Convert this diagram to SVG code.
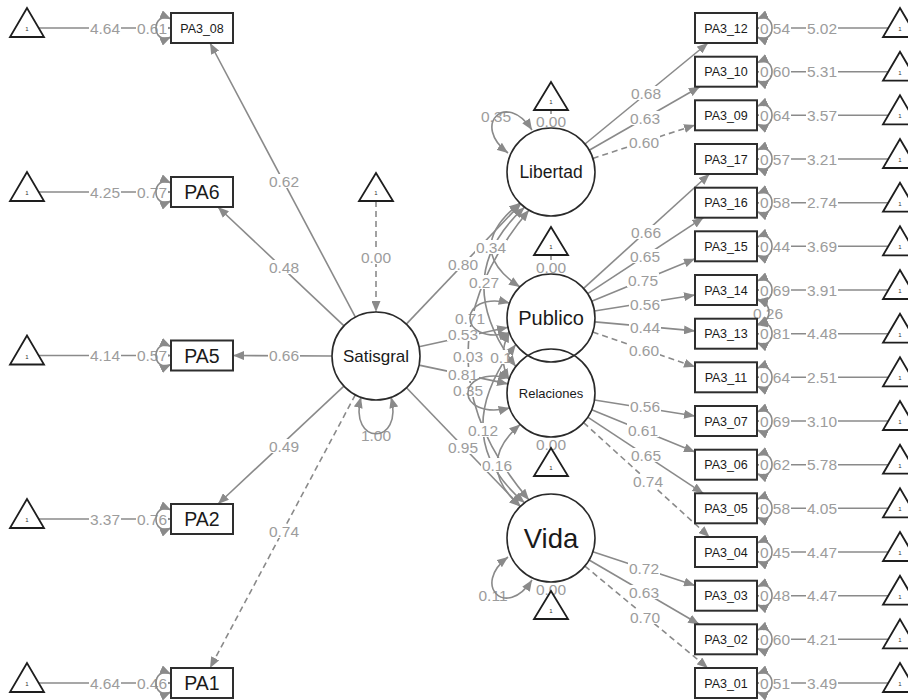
<svg xmlns="http://www.w3.org/2000/svg" width="908" height="700" viewBox="0 0 908 700">
<defs>
<marker id="ah" viewBox="0 0 11 9" refX="11" refY="4.5" markerWidth="11" markerHeight="9" markerUnits="userSpaceOnUse" orient="auto-start-reverse"><path d="M0,0L11,4.5L0,9z" fill="#8a8a8a"/></marker>
</defs>
<style>
.e{fill:none;stroke:#8a8a8a;stroke-width:1.6}
.d{stroke-dasharray:6 4}
.lb rect{fill:#fff}
.lb text{font-family:"Liberation Sans",Arial,sans-serif;font-size:15.5px;fill:#9c9c9c;text-anchor:middle}
.box{fill:#fff;stroke:#2e2e2e;stroke-width:2}
.circ{fill:#fff;stroke:#2a2a2a;stroke-width:1.6}
.tri{fill:#fff;stroke:#1e1e1e;stroke-width:1.8}
.nt{font-family:"Liberation Sans",Arial,sans-serif;fill:#1a1a1a;text-anchor:middle}
.one{font-family:"Liberation Sans",Arial,sans-serif;font-size:6px;fill:#333;text-anchor:middle}
</style>
<rect width="908" height="700" fill="#fff"/>
<g id="connectors">
<g id="edges" marker-end="url(#ah)">
<!-- left intercept lines -->
<line class="e" x1="39" y1="28" x2="171" y2="28"/>
<line class="e" x1="39" y1="192" x2="171" y2="192"/>
<line class="e" x1="39" y1="355.5" x2="171" y2="355.5"/>
<line class="e" x1="39" y1="519" x2="171" y2="519"/>
<line class="e" x1="39" y1="683" x2="171" y2="683"/>
<!-- right intercept lines -->
<line class="e" x1="889" y1="28" x2="757" y2="28"/>
<line class="e" x1="889" y1="71.7" x2="757" y2="71.7"/>
<line class="e" x1="889" y1="115.3" x2="757" y2="115.3"/>
<line class="e" x1="889" y1="159" x2="757" y2="159"/>
<line class="e" x1="889" y1="202.7" x2="757" y2="202.7"/>
<line class="e" x1="889" y1="246.3" x2="757" y2="246.3"/>
<line class="e" x1="889" y1="290" x2="757" y2="290"/>
<line class="e" x1="889" y1="333.7" x2="757" y2="333.7"/>
<line class="e" x1="889" y1="377.3" x2="757" y2="377.3"/>
<line class="e" x1="889" y1="421" x2="757" y2="421"/>
<line class="e" x1="889" y1="464.7" x2="757" y2="464.7"/>
<line class="e" x1="889" y1="508.3" x2="757" y2="508.3"/>
<line class="e" x1="889" y1="552" x2="757" y2="552"/>
<line class="e" x1="889" y1="595.7" x2="757" y2="595.7"/>
<line class="e" x1="889" y1="639.3" x2="757" y2="639.3"/>
<line class="e" x1="889" y1="683" x2="757" y2="683"/>
<!-- latent intercepts -->
<line class="e d" x1="376" y1="201" x2="376" y2="312"/>
<line class="e" x1="551" y1="110" x2="551" y2="128"/>
<line class="e" x1="551" y1="255" x2="551" y2="274"/>
<line class="e" x1="551" y1="448" x2="551" y2="437"/>
<line class="e" x1="551" y1="591" x2="551" y2="582"/>
<!-- Satisgral loadings -->
<line class="e" x1="355.4" y1="317.1" x2="210" y2="43"/>
<line class="e" x1="344" y1="325.8" x2="217.9" y2="207"/>
<line class="e" x1="332" y1="356" x2="233" y2="355.5"/>
<line class="e" x1="343.9" y1="386.1" x2="218" y2="504"/>
<line class="e d" x1="355.3" y1="394.8" x2="210" y2="668"/>
<!-- Satisgral to latents -->
<line class="e" x1="406.3" y1="324.1" x2="520.7" y2="203.9"/>
<line class="e" x1="419" y1="346.7" x2="508" y2="327.3"/>
<line class="e" x1="419" y1="365.1" x2="508" y2="383.9"/>
<line class="e" x1="406.5" y1="387.7" x2="520.5" y2="506.3"/>
<!-- Libertad loadings -->
<line class="e" x1="585" y1="144" x2="708" y2="43"/>
<line class="e" x1="589.2" y1="150.2" x2="699.8" y2="86.7"/>
<line class="e d" x1="592.8" y1="158.4" x2="695" y2="125.1"/>
<!-- Publico loadings -->
<line class="e" x1="583.6" y1="288.4" x2="709.5" y2="174"/>
<line class="e" x1="587.7" y1="293.7" x2="703.4" y2="217.7"/>
<line class="e" x1="591.7" y1="301.3" x2="695" y2="258.8"/>
<line class="e" x1="594.4" y1="311" x2="695" y2="295"/>
<line class="e" x1="594.8" y1="321.9" x2="695" y2="330.9"/>
<line class="e d" x1="592.7" y1="332.1" x2="695" y2="366.8"/>
<!-- Relaciones loadings -->
<line class="e" x1="594.4" y1="400" x2="695" y2="416"/>
<line class="e" x1="591.7" y1="409.7" x2="695" y2="452"/>
<line class="e" x1="587.7" y1="417.2" x2="703.3" y2="493.3"/>
<line class="e d" x1="583.6" y1="422.6" x2="709.5" y2="537"/>
<!-- Vida loadings -->
<line class="e" x1="592.8" y1="551.8" x2="695" y2="585.5"/>
<line class="e" x1="589.1" y1="560" x2="699.2" y2="624.3"/>
<line class="e d" x1="584.9" y1="566.1" x2="707.9" y2="668"/>
</g>
<g id="curves" marker-start="url(#ah)" marker-end="url(#ah)">
<!-- latent covariances -->
<path class="e" d="M520,203 Q462,249 520,287"/>
<path class="e" d="M524.6,207.2 Q447.8,277 515.8,366.6"/>
<path class="e" d="M529,210 Q407,357 529,500"/>
<path class="e" d="M509.2,331.2 Q496.8,358.5 509.2,379.8"/>
<path class="e" d="M515.8,344.4 Q445.8,436.4 524.6,502.8"/>
<path class="e" d="M520.2,424.4 Q473.8,464.5 520.2,506.6"/>
</g>
</g>
<g id="labels">
<g class="lb">
<rect x="89" y="21" width="32" height="14"/><text x="105" y="33.5">4.64</text>
<rect x="89" y="185" width="32" height="14"/><text x="105" y="197.5">4.25</text>
<rect x="89" y="348.5" width="32" height="14"/><text x="105" y="361">4.14</text>
<rect x="89" y="512" width="32" height="14"/><text x="105" y="524.5">3.37</text>
<rect x="89" y="676" width="32" height="14"/><text x="105" y="688.5">4.64</text>
<rect x="136" y="21" width="32" height="14"/><text x="152" y="33.5">0.61</text>
<rect x="136" y="185" width="32" height="14"/><text x="152" y="197.5">0.77</text>
<rect x="136" y="348.5" width="32" height="14"/><text x="152" y="361">0.57</text>
<rect x="136" y="512" width="32" height="14"/><text x="152" y="524.5">0.76</text>
<rect x="136" y="676" width="32" height="14"/><text x="152" y="688.5">0.46</text>
<rect x="268" y="174" width="32" height="14"/><text x="284" y="186.5">0.62</text>
<rect x="268" y="260" width="32" height="14"/><text x="284" y="272.5">0.48</text>
<rect x="268" y="348.5" width="32" height="14"/><text x="284" y="361">0.66</text>
<rect x="268" y="439" width="32" height="14"/><text x="284" y="451.5">0.49</text>
<rect x="268" y="524" width="32" height="14"/><text x="284" y="536.5">0.74</text>
<rect x="360" y="250" width="32" height="14"/><text x="376" y="262.5">0.00</text>
<rect x="360" y="428" width="32" height="14"/><text x="376" y="440.5">1.00</text>
<rect x="535" y="114" width="32" height="14"/><text x="551" y="126.5">0.00</text>
<rect x="535" y="260" width="32" height="14"/><text x="551" y="272.5">0.00</text>
<rect x="535" y="437" width="32" height="14"/><text x="551" y="449.5">0.00</text>
<rect x="535" y="582" width="32" height="14"/><text x="551" y="594.5">0.00</text>
<rect x="480" y="109" width="32" height="14"/><text x="496" y="121.5">0.35</text>
<rect x="477" y="588" width="32" height="14"/><text x="493" y="600.5">0.11</text>
<rect x="447" y="257" width="32" height="14"/><text x="463" y="269.5">0.80</text>
<rect x="475" y="240" width="32" height="14"/><text x="491" y="252.5">0.34</text>
<rect x="468" y="275" width="32" height="14"/><text x="484" y="287.5">0.27</text>
<rect x="454" y="311" width="32" height="14"/><text x="470" y="323.5">0.71</text>
<rect x="447" y="327" width="32" height="14"/><text x="463" y="339.5">0.53</text>
<rect x="452" y="349" width="32" height="14"/><text x="468" y="361.5">0.03</text>
<rect x="492" y="350" width="16" height="14"/><text x="501" y="362.5">0.1</text>
<rect x="447" y="367" width="32" height="14"/><text x="463" y="379.5">0.81</text>
<rect x="452" y="383" width="32" height="14"/><text x="468" y="395.5">0.35</text>
<rect x="467" y="423" width="32" height="14"/><text x="483" y="435.5">0.12</text>
<rect x="447" y="440" width="32" height="14"/><text x="463" y="452.5">0.95</text>
<rect x="481" y="458" width="32" height="14"/><text x="497" y="470.5">0.16</text>
<rect x="630" y="86" width="32" height="14"/><text x="646" y="98.5">0.68</text>
<rect x="629" y="111" width="32" height="14"/><text x="645" y="123.5">0.63</text>
<rect x="628" y="135" width="32" height="14"/><text x="644" y="147.5">0.60</text>
<rect x="630" y="225" width="32" height="14"/><text x="646" y="237.5">0.66</text>
<rect x="629" y="249" width="32" height="14"/><text x="645" y="261.5">0.65</text>
<rect x="627" y="273" width="32" height="14"/><text x="643" y="285.5">0.75</text>
<rect x="629" y="297" width="32" height="14"/><text x="645" y="309.5">0.56</text>
<rect x="629" y="320" width="32" height="14"/><text x="645" y="332.5">0.44</text>
<rect x="628" y="343" width="32" height="14"/><text x="644" y="355.5">0.60</text>
<rect x="629" y="399" width="32" height="14"/><text x="645" y="411.5">0.56</text>
<rect x="627" y="423" width="32" height="14"/><text x="643" y="435.5">0.61</text>
<rect x="630" y="448" width="32" height="14"/><text x="646" y="460.5">0.65</text>
<rect x="632" y="474" width="32" height="14"/><text x="648" y="486.5">0.74</text>
<rect x="628" y="561" width="32" height="14"/><text x="644" y="573.5">0.72</text>
<rect x="628" y="585" width="32" height="14"/><text x="644" y="597.5">0.63</text>
<rect x="629" y="610" width="32" height="14"/><text x="645" y="622.5">0.70</text>
<rect x="759" y="21" width="32" height="14"/><text x="775" y="33.5">0.54</text>
<rect x="759" y="64.7" width="32" height="14"/><text x="775" y="77.2">0.60</text>
<rect x="759" y="108.3" width="32" height="14"/><text x="775" y="120.8">0.64</text>
<rect x="759" y="152" width="32" height="14"/><text x="775" y="164.5">0.57</text>
<rect x="759" y="195.7" width="32" height="14"/><text x="775" y="208.2">0.58</text>
<rect x="759" y="239.3" width="32" height="14"/><text x="775" y="251.8">0.44</text>
<rect x="759" y="283" width="32" height="14"/><text x="775" y="295.5">0.69</text>
<rect x="759" y="326.7" width="32" height="14"/><text x="775" y="339.2">0.81</text>
<rect x="759" y="370.3" width="32" height="14"/><text x="775" y="382.8">0.64</text>
<rect x="759" y="414" width="32" height="14"/><text x="775" y="426.5">0.69</text>
<rect x="759" y="457.7" width="32" height="14"/><text x="775" y="470.2">0.62</text>
<rect x="759" y="501.3" width="32" height="14"/><text x="775" y="513.8">0.58</text>
<rect x="759" y="545" width="32" height="14"/><text x="775" y="557.5">0.45</text>
<rect x="759" y="588.7" width="32" height="14"/><text x="775" y="601.2">0.48</text>
<rect x="759" y="632.3" width="32" height="14"/><text x="775" y="644.8">0.60</text>
<rect x="759" y="676" width="32" height="14"/><text x="775" y="688.5">0.51</text>
<rect x="806" y="21" width="32" height="14"/><text x="822" y="33.5">5.02</text>
<rect x="806" y="64.7" width="32" height="14"/><text x="822" y="77.2">5.31</text>
<rect x="806" y="108.3" width="32" height="14"/><text x="822" y="120.8">3.57</text>
<rect x="806" y="152" width="32" height="14"/><text x="822" y="164.5">3.21</text>
<rect x="806" y="195.7" width="32" height="14"/><text x="822" y="208.2">2.74</text>
<rect x="806" y="239.3" width="32" height="14"/><text x="822" y="251.8">3.69</text>
<rect x="806" y="283" width="32" height="14"/><text x="822" y="295.5">3.91</text>
<rect x="806" y="326.7" width="32" height="14"/><text x="822" y="339.2">4.48</text>
<rect x="806" y="370.3" width="32" height="14"/><text x="822" y="382.8">2.51</text>
<rect x="806" y="414" width="32" height="14"/><text x="822" y="426.5">3.10</text>
<rect x="806" y="457.7" width="32" height="14"/><text x="822" y="470.2">5.78</text>
<rect x="806" y="501.3" width="32" height="14"/><text x="822" y="513.8">4.05</text>
<rect x="806" y="545" width="32" height="14"/><text x="822" y="557.5">4.47</text>
<rect x="806" y="588.7" width="32" height="14"/><text x="822" y="601.2">4.47</text>
<rect x="806" y="632.3" width="32" height="14"/><text x="822" y="644.8">4.21</text>
<rect x="806" y="676" width="32" height="14"/><text x="822" y="688.5">3.49</text>
<rect x="752" y="306" width="32" height="14"/><text x="768" y="318.5">0.26</text>
</g>
</g>
<g id="loops" marker-start="url(#ah)" marker-end="url(#ah)">
<path class="e" d="M171,19 C151,10 151,46 171,37"/>
<path class="e" d="M171,183 C151,174 151,210 171,201"/>
<path class="e" d="M171,346.5 C151,337.5 151,373.5 171,364.5"/>
<path class="e" d="M171,510 C151,501 151,537 171,528"/>
<path class="e" d="M171,674 C151,665 151,701 171,692"/>
<path class="e" d="M757,19 C777,10 777,46 757,37"/>
<path class="e" d="M757,62.7 C777,53.7 777,89.7 757,80.7"/>
<path class="e" d="M757,106.3 C777,97.3 777,133.3 757,124.3"/>
<path class="e" d="M757,150 C777,141 777,177 757,168"/>
<path class="e" d="M757,193.7 C777,184.7 777,220.7 757,211.7"/>
<path class="e" d="M757,237.3 C777,228.3 777,264.3 757,255.3"/>
<path class="e" d="M757,281 C777,272 777,308 757,299"/>
<path class="e" d="M757,324.7 C777,315.7 777,351.7 757,342.7"/>
<path class="e" d="M757,368.3 C777,359.3 777,395.3 757,386.3"/>
<path class="e" d="M757,412 C777,403 777,439 757,430"/>
<path class="e" d="M757,455.7 C777,446.7 777,482.7 757,473.7"/>
<path class="e" d="M757,499.3 C777,490.3 777,526.3 757,517.3"/>
<path class="e" d="M757,543 C777,534 777,570 757,561"/>
<path class="e" d="M757,586.7 C777,577.7 777,613.7 757,604.7"/>
<path class="e" d="M757,630.3 C777,621.3 777,657.3 757,648.3"/>
<path class="e" d="M757,674 C777,665 777,701 757,692"/>
<path class="e" d="M757,300 C773,302 773,322 757,325"/>
<path class="e" d="M361,397 C348,446 404,446 391,397"/>
<path class="e" d="M508,153 C471,125 506,90 532,130"/>
<path class="e" d="M508,557 C471,585 506,620 532,580"/>
<path class="e" d="M509.7,303 C456.7,290 456.7,346 509.7,333"/>
<path class="e" d="M509.7,378 C454,365 454,421 509.7,408"/>
</g>
<g id="node-PA3_08"><rect class="box" x="171" y="13" width="62" height="30"/><text class="nt" x="202" y="32.5" font-size="12.5">PA3_08</text></g>
<g id="node-PA6"><rect class="box" x="171" y="177" width="62" height="30"/><text class="nt" x="202" y="199" font-size="19.5">PA6</text></g>
<g id="node-PA5"><rect class="box" x="171" y="340.5" width="62" height="30"/><text class="nt" x="202" y="362.5" font-size="19.5">PA5</text></g>
<g id="node-PA2"><rect class="box" x="171" y="504" width="62" height="30"/><text class="nt" x="202" y="526" font-size="19.5">PA2</text></g>
<g id="node-PA1"><rect class="box" x="171" y="668" width="62" height="30"/><text class="nt" x="202" y="690" font-size="19.5">PA1</text></g>
<g id="node-PA3_12"><rect class="box" x="695" y="13" width="62" height="30"/><text class="nt" x="726" y="32.5" font-size="12.5">PA3_12</text></g>
<g id="node-PA3_10"><rect class="box" x="695" y="56.7" width="62" height="30"/><text class="nt" x="726" y="76.2" font-size="12.5">PA3_10</text></g>
<g id="node-PA3_09"><rect class="box" x="695" y="100.3" width="62" height="30"/><text class="nt" x="726" y="119.8" font-size="12.5">PA3_09</text></g>
<g id="node-PA3_17"><rect class="box" x="695" y="144" width="62" height="30"/><text class="nt" x="726" y="163.5" font-size="12.5">PA3_17</text></g>
<g id="node-PA3_16"><rect class="box" x="695" y="187.7" width="62" height="30"/><text class="nt" x="726" y="207.2" font-size="12.5">PA3_16</text></g>
<g id="node-PA3_15"><rect class="box" x="695" y="231.3" width="62" height="30"/><text class="nt" x="726" y="250.8" font-size="12.5">PA3_15</text></g>
<g id="node-PA3_14"><rect class="box" x="695" y="275" width="62" height="30"/><text class="nt" x="726" y="294.5" font-size="12.5">PA3_14</text></g>
<g id="node-PA3_13"><rect class="box" x="695" y="318.7" width="62" height="30"/><text class="nt" x="726" y="338.2" font-size="12.5">PA3_13</text></g>
<g id="node-PA3_11"><rect class="box" x="695" y="362.3" width="62" height="30"/><text class="nt" x="726" y="381.8" font-size="12.5">PA3_11</text></g>
<g id="node-PA3_07"><rect class="box" x="695" y="406" width="62" height="30"/><text class="nt" x="726" y="425.5" font-size="12.5">PA3_07</text></g>
<g id="node-PA3_06"><rect class="box" x="695" y="449.7" width="62" height="30"/><text class="nt" x="726" y="469.2" font-size="12.5">PA3_06</text></g>
<g id="node-PA3_05"><rect class="box" x="695" y="493.3" width="62" height="30"/><text class="nt" x="726" y="512.8" font-size="12.5">PA3_05</text></g>
<g id="node-PA3_04"><rect class="box" x="695" y="537" width="62" height="30"/><text class="nt" x="726" y="556.5" font-size="12.5">PA3_04</text></g>
<g id="node-PA3_03"><rect class="box" x="695" y="580.7" width="62" height="30"/><text class="nt" x="726" y="600.2" font-size="12.5">PA3_03</text></g>
<g id="node-PA3_02"><rect class="box" x="695" y="624.3" width="62" height="30"/><text class="nt" x="726" y="643.8" font-size="12.5">PA3_02</text></g>
<g id="node-PA3_01"><rect class="box" x="695" y="668" width="62" height="30"/><text class="nt" x="726" y="687.5" font-size="12.5">PA3_01</text></g>
<g id="node-Satisgral"><circle class="circ" cx="376" cy="356" r="44"/><text class="nt" x="376" y="362" font-size="17">Satisgral</text></g>
<g id="node-Libertad"><circle class="circ" cx="551" cy="172" r="44"/><text class="nt" x="551" y="178.3" font-size="17.5">Libertad</text></g>
<g id="node-Publico"><circle class="circ" cx="551" cy="318" r="44"/><text class="nt" x="551" y="325" font-size="20">Publico</text></g>
<g id="node-Relaciones"><circle class="circ" cx="551" cy="393" r="44" fill="none" style="fill:none"/><text class="nt" x="551" y="397.5" font-size="13">Relaciones</text></g>
<g id="node-Vida"><circle class="circ" cx="551" cy="538" r="44"/><text class="nt" x="551" y="548" font-size="27.5">Vida</text></g>
<g id="int-left">
<g id="tri-PA3_08"><polygon class="tri" points="27,8 10,37 44,37"/><text class="one" x="27" y="31">1</text></g>
<g id="tri-PA6"><polygon class="tri" points="27,172 10,201 44,201"/><text class="one" x="27" y="195">1</text></g>
<g id="tri-PA5"><polygon class="tri" points="27,335.5 10,364.5 44,364.5"/><text class="one" x="27" y="358.5">1</text></g>
<g id="tri-PA2"><polygon class="tri" points="27,499 10,528 44,528"/><text class="one" x="27" y="522">1</text></g>
<g id="tri-PA1"><polygon class="tri" points="27,663 10,692 44,692"/><text class="one" x="27" y="686">1</text></g>
</g>
<g id="int-right">
<g><polygon class="tri" points="900,8 883,37 917,37"/><text class="one" x="900" y="31">1</text></g>
<g><polygon class="tri" points="900,51.7 883,80.7 917,80.7"/><text class="one" x="900" y="74.7">1</text></g>
<g><polygon class="tri" points="900,95.3 883,124.3 917,124.3"/><text class="one" x="900" y="118.3">1</text></g>
<g><polygon class="tri" points="900,139 883,168 917,168"/><text class="one" x="900" y="162">1</text></g>
<g><polygon class="tri" points="900,182.7 883,211.7 917,211.7"/><text class="one" x="900" y="205.7">1</text></g>
<g><polygon class="tri" points="900,226.3 883,255.3 917,255.3"/><text class="one" x="900" y="249.3">1</text></g>
<g><polygon class="tri" points="900,270 883,299 917,299"/><text class="one" x="900" y="293">1</text></g>
<g><polygon class="tri" points="900,313.7 883,342.7 917,342.7"/><text class="one" x="900" y="336.7">1</text></g>
<g><polygon class="tri" points="900,357.3 883,386.3 917,386.3"/><text class="one" x="900" y="380.3">1</text></g>
<g><polygon class="tri" points="900,401 883,430 917,430"/><text class="one" x="900" y="424">1</text></g>
<g><polygon class="tri" points="900,444.7 883,473.7 917,473.7"/><text class="one" x="900" y="467.7">1</text></g>
<g><polygon class="tri" points="900,488.3 883,517.3 917,517.3"/><text class="one" x="900" y="511.3">1</text></g>
<g><polygon class="tri" points="900,532 883,561 917,561"/><text class="one" x="900" y="555">1</text></g>
<g><polygon class="tri" points="900,575.7 883,604.7 917,604.7"/><text class="one" x="900" y="598.7">1</text></g>
<g><polygon class="tri" points="900,619.3 883,648.3 917,648.3"/><text class="one" x="900" y="642.3">1</text></g>
<g><polygon class="tri" points="900,663 883,692 917,692"/><text class="one" x="900" y="686">1</text></g>
</g>
<g id="int-latent">
<g><polygon class="tri" points="376,173 359,201 393,201"/><text class="one" x="376" y="195">1</text></g>
<g><polygon class="tri" points="551,82 534,110 568,110"/><text class="one" x="551" y="104">1</text></g>
<g><polygon class="tri" points="551,227 534,255 568,255"/><text class="one" x="551" y="249">1</text></g>
<g><polygon class="tri" points="551,448 534,476 568,476"/><text class="one" x="551" y="470">1</text></g>
<g><polygon class="tri" points="551,591 534,619 568,619"/><text class="one" x="551" y="613">1</text></g>
</g>
</svg>
